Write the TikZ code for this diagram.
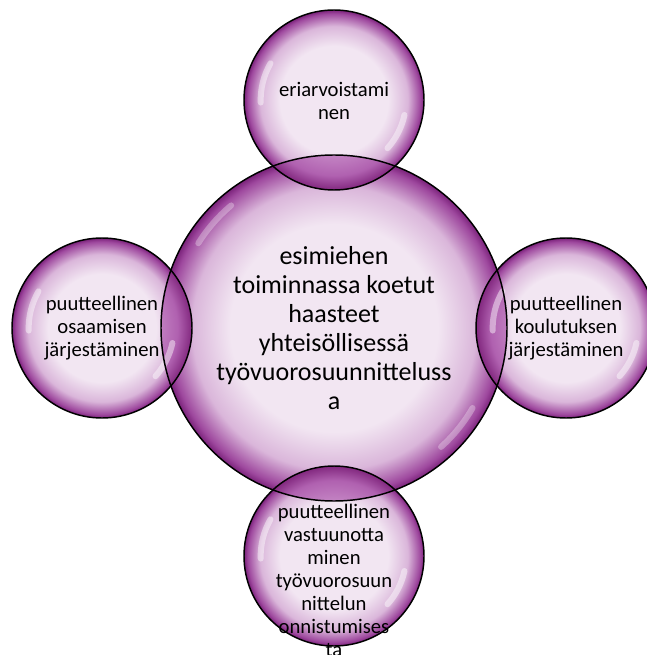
\documentclass[tikz,border=0pt]{standalone}
\usepackage{fontspec}
\setmainfont{Carlito}
\usetikzlibrary{calc}
\definecolor{bIn}{HTML}{F2E6F2}
\definecolor{bMid}{HTML}{DAB6DA}
\definecolor{bDark}{HTML}{9E489E}
\definecolor{bEdge}{HTML}{7A227A}
\definecolor{lIn}{HTML}{C485C4}
\definecolor{lMid}{HTML}{B061B0}
\definecolor{lEdge}{HTML}{82287F}
\pgfdeclareradialshading{bubble}{\pgfpoint{0bp}{0bp}}{color(0bp)=(bIn); color(15bp)=(bIn); color(20.5bp)=(bMid); color(24bp)=(bDark); color(25bp)=(bEdge); color(50bp)=(bEdge)}
\pgfdeclareradialshading{lens}{\pgfpoint{0bp}{0bp}}{color(0bp)=(lIn); color(15bp)=(lIn); color(21bp)=(lMid); color(25bp)=(lEdge); color(50bp)=(lEdge)}
\tikzset{
  bub/.style={circle, shading=bubble, inner sep=0pt, outer sep=0pt, draw=none},
  bd/.style={draw=black, line width=1.1pt},
  hl/.style={draw=white, line width=4.5pt, opacity=0.45, line cap=round},
  sattext/.style={font=\fontsize{15.5}{17.25}\selectfont, align=center, text=black, inner sep=0pt},
  maintext/.style={font=\fontsize{19.5}{21.75}\selectfont, align=center, text=black, inner sep=0pt}
}
\begin{document}
\begin{tikzpicture}[x=0.75pt,y=-0.75pt]
\useasboundingbox (0,0) rectangle (646,655);
% fills
\node[bub, minimum size=135pt] (t) at (334,100) {};
\node[bub, minimum size=135pt] (l) at (102,328) {};
\node[bub, minimum size=135pt] (r) at (566,328) {};
\node[bub, minimum size=135pt] (b) at (334,556) {};
\node[bub, minimum size=259.5pt] (c) at (334,328) {};
% lenses
\begin{scope}
  \clip (c.center) circle[radius=129.75pt];
  \shade[shading=lens] (t.center) circle[radius=67.5pt];
  \shade[shading=lens] (l.center) circle[radius=67.5pt];
  \shade[shading=lens] (r.center) circle[radius=67.5pt];
  \shade[shading=lens] (b.center) circle[radius=67.5pt];
\end{scope}
% highlights
\foreach \n in {t,l,r,b}{
  \draw[hl] ($(\n.center)+(150:55pt)$) arc[start angle=150, end angle=182, radius=55pt];
  \draw[hl] ($(\n.center)+(-42:54pt)$) arc[start angle=-42, end angle=-12, radius=54pt];
}
\draw[hl, opacity=0.3] ($(c.center)+(130:120pt)$) arc[start angle=130, end angle=148, radius=120pt];
\draw[hl, opacity=0.3] ($(c.center)+(-48:120pt)$) arc[start angle=-48, end angle=-30, radius=120pt];
% borders
\draw[bd] (t.center) circle[radius=67.5pt];
\draw[bd] (l.center) circle[radius=67.5pt];
\draw[bd] (r.center) circle[radius=67.5pt];
\draw[bd] (b.center) circle[radius=67.5pt];
\draw[bd] (c.center) circle[radius=129.75pt];
% texts
\node[maintext] (ct) at (334,328) {esimiehen\\toiminnassa koetut\\haasteet\\yhteisöllisessä\\työvuorosuunnitteluss\\a};
\node[sattext] (tt) at (334,101) {eriarvoistami\\nen};
\node[sattext] (lt) at (102,328) {puutteellinen\\osaamisen\\järjestäminen};
\node[sattext] (rt) at (566,328) {puutteellinen\\koulutuksen\\järjestäminen};
\node[sattext] (bt) at (334,580) {puutteellinen\\vastuunotta\\minen\\työvuorosuun\\nittelun\\onnistumises\\ta};
\end{tikzpicture}
\end{document}
